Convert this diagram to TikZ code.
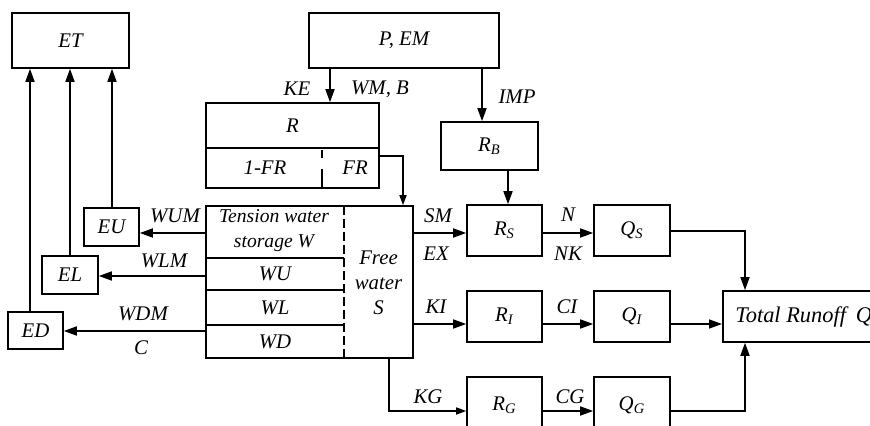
\documentclass[tikz,border=0pt]{standalone}
\usepackage{fontspec}
\setmainfont{Liberation Serif}
\usetikzlibrary{arrows.meta}
\begin{document}
\begin{tikzpicture}[x=0.5pt,y=-0.5pt,
  font=\fontsize{10.4}{12.4}\selectfont\itshape,
  every node/.style={inner sep=0pt},
  box/.style 2 args={draw, line width=0.8pt, rectangle, minimum width=#1*0.5pt, minimum height=#2*0.5pt},
  arr/.style={line width=0.8pt, -{Triangle[length=6.5pt,width=4.5pt]}},
  sarr/.style={line width=0.8pt, -{Triangle[length=5pt,width=3.5pt]}},
  ln/.style={line width=0.8pt},
  dln/.style={line width=1.1pt, dash pattern=on 4.5pt off 2pt}]
\useasboundingbox (0,0) rectangle (870,426);
\clip (0,0) rectangle (870,426);

% boxes
\node[box={117}{55}] (ET) at (70.5,40.5) {ET};
\node[box={190}{55}] (PEM) at (404,40.5) {P, EM};
\node[box={173}{45}] (Rt) at (292.5,125.5) {R};
\node[box={173}{40}] (Rb) at (292.5,168) {};
\node (t1FR) at (265,168) {1-FR};
\node (tFR) at (355,168) {FR};
\draw[line width=1.1pt] (322,150) -- (322,158) (322,169) -- (322,187);
\node[box={97}{48}] (RB) at (489.5,146) {R\textsubscript{B}};

\node[box={207}{152}] (ST) at (309.5,282) {};
\draw[ln] (206,258) -- (344,258) (206,290) -- (344,290) (206,325) -- (344,325);
\draw[dln] (344,206) -- (344,358);
\node[align=center, font=\fontsize{9.8}{12.4}\selectfont\itshape] (TW) at (274,231) {Tension water\\storage W};
\node (WU) at (275,274) {WU};
\node (WL) at (275,307.5) {WL};
\node (WD) at (275,341.5) {WD};
\node[align=center] (FW) at (378.5,283) {Free\\water\\S};

\node[box={55}{38}] (EU) at (111.5,227) {EU};
\node[box={56}{38}] (EL) at (70,275) {EL};
\node[box={55}{37}] (ED) at (35.5,330.5) {ED};

\node[box={75}{51}] (RS) at (504.5,230.5) {R\textsubscript{S}};
\node[box={76}{51}] (QS) at (632,230.5) {Q\textsubscript{S}};
\node[box={75}{51}] (RI) at (504.5,316.5) {R\textsubscript{I}};
\node[box={76}{51}] (QI) at (632,316.5) {Q\textsubscript{I}};
\node[box={75}{56}] (RG) at (504.5,405) {R\textsubscript{G}};
\node[box={76}{56}] (QG) at (632,405) {Q\textsubscript{G}};
\node[box={280}{51}, anchor=west] (TOT) at (722,316.5) {};
\node[anchor=west, font=\fontsize{11.2}{13}\selectfont\itshape] (tTOT) at (735,316.5) {Total Runoff\hspace{5pt}Q};

% coordinates
\coordinate (xKE) at (330,0);
\coordinate (xIMP) at (482,0);
\coordinate (yFR) at (0,156);
\coordinate (xFR) at (403,0);
\coordinate (xB) at (508,0);
\coordinate (yS) at (0,233);
\coordinate (yI) at (0,324);
\coordinate (yG) at (0,411);
\coordinate (xKG) at (389,0);
\coordinate (xT) at (745,0);
\coordinate (yQS) at (0,231);
\coordinate (xD) at (30,0);
\coordinate (xL) at (70,0);
\coordinate (xU) at (112,0);
\coordinate (yU) at (0,233);
\coordinate (yL) at (0,276);
\coordinate (yD) at (0,331);

% connectors
\draw[arr] (PEM.south -| xKE) -- (Rt.north -| xKE);
\draw[arr] (PEM.south -| xIMP) -- (RB.north -| xIMP);
\draw[sarr] (Rb.east |- yFR) -| (ST.north -| xFR);
\draw[arr] (RB.south -| xB) -- (RS.north -| xB);
\draw[arr] (ST.east |- yS) -- (RS.west |- yS);
\draw[arr] (RS.east |- yS) -- (QS.west |- yS);
\draw[arr] (ST.east |- yI) -- (RI.west |- yI);
\draw[arr] (RI.east |- yI) -- (QI.west |- yI);
\draw[arr] (QI.east |- yI) -- (TOT.west |- yI);
\draw[sarr] (ST.south -| xKG) |- (RG.west |- yG);
\draw[arr] (RG.east |- yG) -- (QG.west |- yG);
\draw[arr] (QS.east |- yQS) -| (TOT.north -| xT);
\draw[arr] (QG.east |- yG) -| (TOT.south -| xT);
\draw[arr] (ED.north -| xD) -- (ET.south -| xD);
\draw[arr] (EL.north -| xL) -- (ET.south -| xL);
\draw[arr] (EU.north -| xU) -- (ET.south -| xU);
\draw[arr] (ST.west |- yU) -- (EU.east |- yU);
\draw[arr] (ST.west |- yL) -- (EL.east |- yL);
\draw[arr] (ST.west |- yD) -- (ED.east |- yD);

% labels
\node (lKE) at (297,89) {KE};
\node (lWMB) at (380,89) {WM, B};
\node (lIMP) at (517,97) {IMP};
\node (lWUM) at (175,216) {WUM};
\node (lWLM) at (164,261) {WLM};
\node (lWDM) at (143,314) {WDM};
\node (lC) at (141,348) {C};
\node (lSM) at (438,216) {SM};
\node (lEX) at (436,254) {EX};
\node (lN) at (568,215) {N};
\node (lNK) at (568,254) {NK};
\node (lKI) at (436,307) {KI};
\node (lCI) at (567,307) {CI};
\node (lKG) at (428,397) {KG};
\node (lCG) at (570,397) {CG};
\end{tikzpicture}
\end{document}
